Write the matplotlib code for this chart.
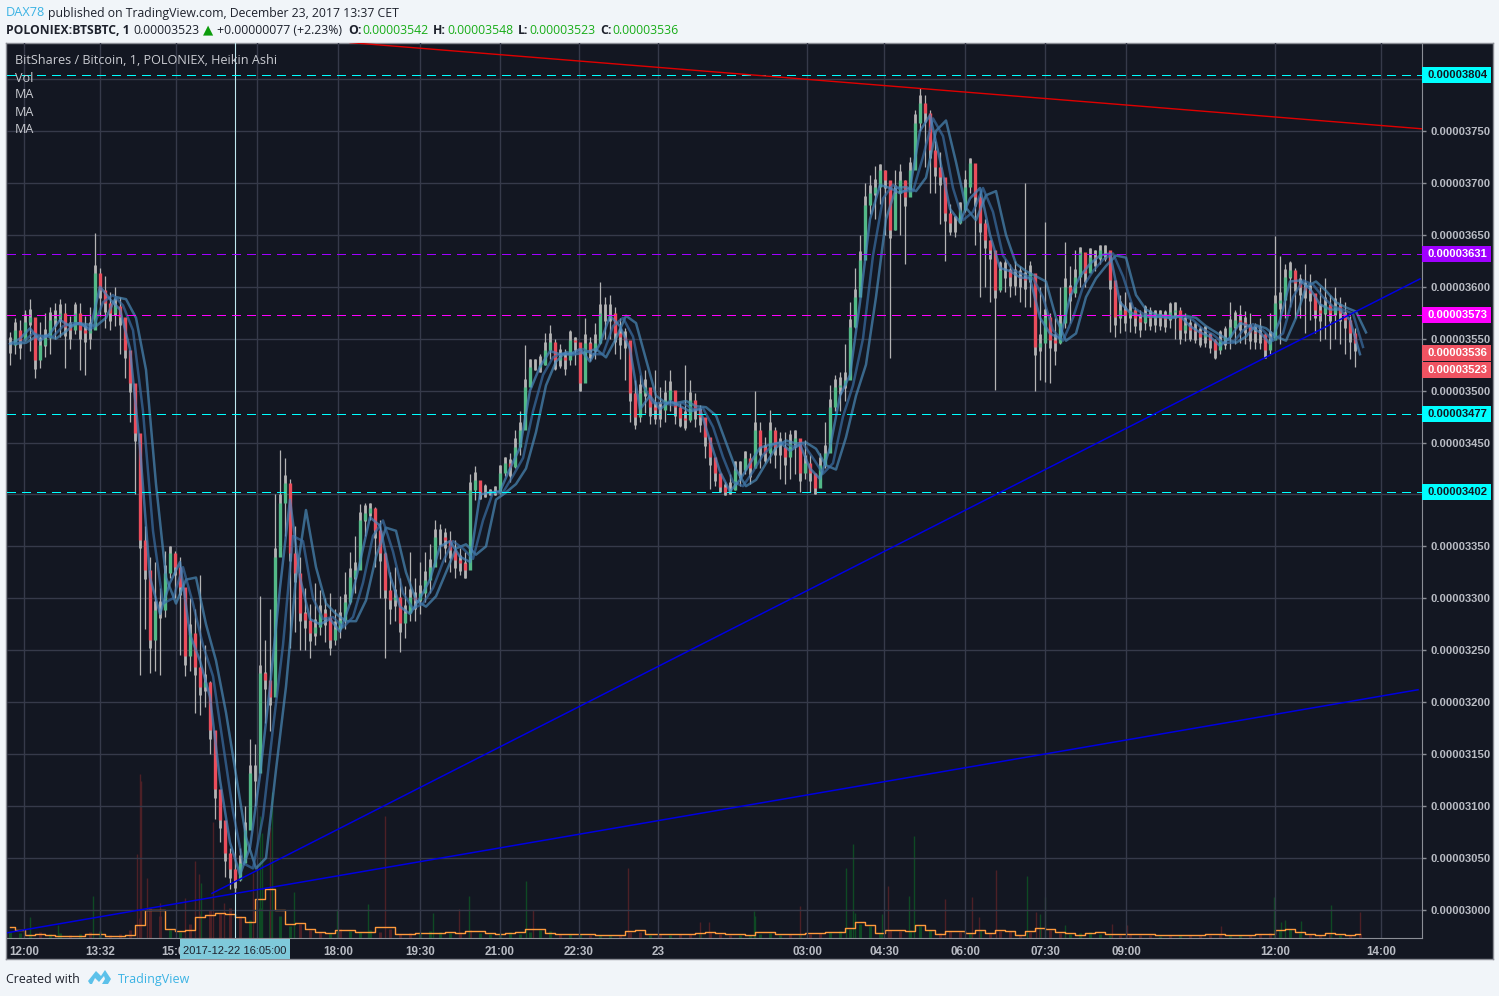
# TradingView snapshot of BTSBTC on Poloniex, 1 minute Heikin Ashi with MAs and volume
import numpy as np
import matplotlib
matplotlib.use("Agg")
import matplotlib.pyplot as plt
from matplotlib.patches import Rectangle, Polygon
from matplotlib.ticker import FuncFormatter

W, H = 1499, 996

# candles, prices in satoshi, one sample every 5 bars
bar_close = [
    3544,3558,3549,3566,3571,3529,3544,3551,3568,3570,
    3575,3561,3558,3575,3558,3555,3558,3613,3597,3584,
    3575,3581,3571,3539,3507,3459,3356,3327,3260,3289,
    3289,3324,3344,3330,3311,3244,3267,3234,3215,3219,
    3173,3116,3087,3055,3039,3029,3045,3077,3132,3132,
    3228,3221,3205,3340,3392,3411,3344,3324,3286,3279,
    3267,3272,3286,3282,3260,3270,3279,3296,3321,3327,
    3375,3382,3387,3366,3344,3308,3298,3301,3276,3286,
    3301,3298,3305,3318,3330,3359,3359,3356,3347,3337,
    3334,3327,3404,3414,3401,3401,3401,3401,3421,3430,
    3426,3446,3462,3503,3523,3523,3525,3539,3547,3529,
    3532,3529,3549,3547,3507,3546,3539,3546,3575,3575,
    3575,3555,3552,3549,3498,3475,3498,3503,3484,3481,
    3481,3491,3501,3484,3474,3472,3491,3481,3475,3455,
    3436,3421,3407,3402,3404,3424,3424,3435,3425,3462,
    3446,3440,3462,3446,3446,3436,3450,3454,3421,3430,
    3421,3406,3428,3440,3484,3503,3505,3510,3561,3590,
    3626,3679,3690,3696,3712,3703,3655,3690,3703,3686,
    3712,3758,3777,3767,3732,3715,3706,3671,3661,3661,
    3674,3696,3719,3686,3661,3645,3635,3597,3616,3616,
    3609,3609,3608,3606,3613,3542,3546,3571,3549,3546,
    3565,3600,3594,3609,3633,3613,3629,3628,3635,3635,
    3606,3571,3578,3573,3578,3570,3566,3573,3570,3571,
    3570,3569,3576,3578,3558,3563,3558,3557,3552,3554,
    3549,3539,3549,3552,3561,3568,3566,3563,3556,3555,
    3554,3539,3549,3584,3587,3609,3616,3604,3600,3597,
    3594,3578,3575,3582,3575,3581,3575,3568,3555,3546]
bar_high = [
    3556,3570,3568,3578,3588,3570,3566,3575,3580,3584,
    3588,3584,3572,3585,3584,3572,3580,3652,3618,3610,
    3595,3600,3590,3570,3530,3490,3420,3370,3340,3335,
    3310,3346,3350,3346,3340,3300,3300,3290,3322,3255,
    3220,3150,3115,3080,3060,3055,3060,3100,3165,3160,
    3302,3260,3290,3400,3443,3435,3415,3370,3340,3310,
    3295,3315,3308,3300,3305,3290,3302,3325,3345,3360,
    3391,3392,3392,3388,3375,3345,3325,3330,3320,3312,
    3345,3320,3335,3345,3352,3375,3372,3368,3365,3356,
    3348,3345,3420,3427,3412,3410,3405,3408,3428,3436,
    3440,3462,3480,3544,3530,3530,3535,3555,3563,3550,
    3545,3540,3558,3552,3530,3570,3552,3565,3605,3590,
    3592,3580,3570,3560,3545,3510,3515,3520,3500,3520,
    3503,3510,3520,3498,3488,3525,3510,3498,3486,3470,
    3450,3432,3415,3412,3420,3432,3432,3442,3440,3500,
    3470,3455,3481,3465,3460,3460,3462,3462,3445,3452,
    3438,3420,3440,3470,3505,3515,3518,3545,3585,3618,
    3650,3700,3708,3716,3718,3712,3690,3712,3718,3703,
    3725,3770,3791,3785,3770,3740,3730,3700,3680,3668,
    3682,3712,3724,3708,3690,3665,3645,3628,3625,3627,
    3622,3625,3620,3700,3625,3600,3600,3662,3575,3570,
    3600,3643,3620,3635,3638,3630,3637,3635,3640,3640,
    3630,3590,3592,3595,3585,3580,3578,3582,3580,3578,
    3578,3578,3585,3585,3580,3575,3570,3566,3562,3562,
    3555,3550,3558,3562,3585,3578,3582,3577,3575,3565,
    3570,3555,3575,3649,3630,3622,3625,3618,3612,3622,
    3612,3590,3600,3608,3592,3600,3590,3585,3572,3560]
bar_low = [
    3525,3535,3530,3548,3538,3512,3522,3532,3535,3550,
    3552,3522,3540,3554,3520,3515,3540,3570,3572,3560,
    3558,3562,3535,3512,3470,3400,3226,3270,3228,3230,
    3226,3282,3320,3300,3245,3225,3230,3190,3188,3195,
    3150,3088,3065,3032,3020,3016,3028,3050,3100,3100,
    3160,3180,3172,3290,3350,3360,3252,3268,3250,3250,
    3243,3255,3265,3258,3245,3255,3262,3270,3295,3305,
    3345,3360,3375,3330,3300,3243,3275,3278,3248,3262,
    3278,3278,3285,3296,3305,3335,3338,3335,3325,3320,
    3322,3320,3350,3395,3396,3398,3399,3399,3400,3418,
    3412,3425,3438,3470,3518,3520,3518,3525,3530,3520,
    3522,3515,3525,3525,3500,3525,3528,3530,3545,3550,
    3550,3535,3530,3510,3470,3463,3470,3478,3468,3468,
    3465,3470,3480,3468,3465,3462,3470,3465,3460,3435,
    3405,3408,3402,3399,3400,3404,3408,3420,3410,3425,
    3425,3430,3430,3425,3415,3410,3415,3420,3402,3415,
    3402,3400,3410,3425,3450,3480,3480,3490,3530,3560,
    3595,3640,3670,3665,3680,3650,3531,3655,3650,3622,
    3690,3725,3750,3715,3690,3690,3660,3625,3650,3648,
    3660,3672,3690,3640,3590,3600,3585,3501,3595,3595,
    3590,3592,3585,3580,3580,3500,3510,3508,3507,3525,
    3545,3560,3565,3590,3600,3600,3615,3615,3622,3625,
    3556,3552,3555,3557,3556,3555,3552,3558,3558,3556,
    3558,3556,3560,3550,3545,3548,3548,3546,3542,3542,
    3536,3530,3535,3540,3540,3545,3546,3545,3540,3540,
    3540,3531,3535,3555,3545,3570,3580,3570,3570,3555,
    3568,3555,3548,3550,3540,3550,3545,3535,3530,3523]

# moving averages, one sample every 10 bars
ma_fast = [
    3545,3550,3560,3548,3555,3568,3562,3565,3558,3600,
    3588,3578,3540,3445,3320,3285,3315,3335,3265,3240,
    3205,3125,3065,3034,3060,3130,3215,3310,3395,3320,
    3280,3275,3280,3268,3295,3335,3378,3370,3322,3292,
    3285,3300,3318,3350,3355,3340,3335,3400,3402,3403,
    3425,3445,3500,3523,3538,3535,3535,3540,3528,3545,
    3572,3562,3540,3482,3495,3482,3490,3485,3480,3482,
    3452,3422,3403,3414,3430,3445,3448,3450,3442,3448,
    3425,3415,3445,3495,3515,3585,3665,3698,3695,3690,
    3695,3750,3765,3722,3675,3662,3685,3695,3650,3618,
    3615,3609,3608,3570,3555,3550,3590,3610,3622,3630,
    3632,3585,3575,3572,3571,3571,3570,3572,3562,3556,
    3552,3543,3551,3565,3562,3556,3545,3568,3605,3606,
    3598,3583,3578,3578,3568,3535]
ma_mid = [
    3545,3547,3555,3552,3552,3562,3565,3563,3560,3585,
    3592,3582,3558,3480,3365,3295,3300,3330,3295,3255,
    3225,3160,3095,3045,3040,3090,3175,3255,3360,3355,
    3300,3280,3282,3272,3282,3315,3360,3375,3345,3305,
    3290,3295,3310,3335,3355,3348,3338,3375,3402,3402,
    3418,3435,3480,3515,3532,3536,3534,3540,3535,3535,
    3562,3570,3552,3505,3488,3488,3486,3488,3482,3483,
    3465,3436,3412,3408,3422,3438,3448,3450,3446,3449,
    3435,3420,3430,3475,3505,3550,3630,3685,3698,3692,
    3692,3725,3762,3745,3695,3664,3672,3695,3672,3630,
    3616,3612,3608,3590,3558,3548,3570,3600,3615,3626,
    3632,3610,3580,3574,3572,3571,3570,3572,3568,3559,
    3554,3546,3546,3558,3564,3558,3548,3555,3590,3606,
    3602,3590,3581,3578,3574,3542]
ma_slow = [
    3545,3546,3552,3553,3550,3557,3565,3564,3562,3570,
    3590,3588,3570,3520,3410,3320,3295,3318,3320,3275,
    3240,3190,3130,3070,3040,3050,3135,3215,3320,3385,
    3330,3295,3285,3278,3278,3298,3340,3368,3365,3325,
    3298,3292,3302,3325,3348,3352,3342,3350,3395,3402,
    3410,3425,3460,3505,3528,3537,3535,3537,3540,3532,
    3550,3572,3565,3530,3495,3488,3488,3490,3485,3484,
    3476,3450,3424,3408,3414,3430,3445,3452,3449,3450,
    3444,3428,3424,3455,3495,3525,3590,3665,3695,3696,
    3692,3705,3750,3760,3720,3676,3664,3688,3692,3650,
    3622,3615,3610,3605,3570,3548,3555,3590,3608,3620,
    3630,3628,3592,3578,3573,3572,3571,3572,3570,3562,
    3556,3550,3546,3552,3563,3560,3552,3548,3570,3600,
    3605,3596,3585,3580,3576,3556]

# volume, one low sample every 10 bars plus the taller single bars
vol_ma = [
    11,8,3,4,3,2,2,2,4,4,
    2,2,3,13,28,28,9,7,8,21,
    23,25,24,21,16,39,49,28,14,15,
    9,6,5,8,8,6,6,11,11,4,
    4,5,5,5,6,5,7,7,5,4,
    5,6,9,9,5,4,4,4,4,3,
    3,3,7,8,4,4,4,4,4,5,
    6,5,4,4,3,6,6,4,4,4,
    5,5,6,6,10,16,13,5,8,8,
    7,13,8,4,7,7,5,8,5,8,
    7,3,7,10,9,6,5,3,5,6,
    4,4,4,4,4,3,3,3,3,3,
    4,4,3,3,3,4,4,8,9,6,
    4,3,5,4,3,4]
vol_low = [
    6,5,4,6,4,5,3,4,6,7,
    3,4,8,20,30,22,8,6,14,24,
    28,25,30,22,18,30,28,22,12,14,
    8,6,5,9,7,6,8,6,9,4,
    5,6,7,6,5,6,8,5,4,5,
    6,4,6,8,7,4,4,4,3,3,
    3,3,6,6,3,4,3,4,4,5,
    6,4,3,3,3,4,5,3,4,4,
    4,5,6,7,9,14,12,5,8,7,
    8,12,8,5,7,6,5,8,5,7,
    7,3,6,9,8,5,4,5,6,4,
    3,3,4,3,3,2,3,3,3,3,
    3,4,3,3,3,4,5,8,9,5,
    4,3,4,3,3,4]
spike_bars = [23,51,86,130,133,134,140,153,178,188,192,194,206,217,246,253,255,263,265,287,
              330,361,378,426,452,462,519,526,621,693,702,747,748,793,839,846,848,875,881,902,
              907,938,965,972,989,1020,1029,1033,1038,1058,1105,1120,1214,1267,1274,1278,1294,1324,1353]
spike_vol = [21,13,42,84,164,157,60,35,40,77,64,55,116,35,65,122,105,111,146,46,
             29,34,122,25,29,42,57,28,70,16,16,27,22,32,70,94,25,24,52,42,
             102,39,41,21,68,62,26,24,41,13,14,13,12,41,16,18,17,33,26]
spike_up = [1,1,1,0,0,0,0,0,0,0,0,1,0,0,0,1,1,0,1,1,
            1,1,0,1,0,1,1,0,0,0,0,1,1,0,1,1,1,1,0,1,
            1,0,0,0,0,1,0,1,1,1,0,0,0,1,1,1,1,1,0]

# horizontal levels and their tags
level_values = [3804, 3631, 3573, 3477, 3402]
level_colors = ["#00ffff", "#a000ff", "#ff00ff", "#00ffff", "#00ffff"]
level_text = ["#131722", "white", "white", "#131722", "#131722"]
last_values = [3536, 3520]
last_labels = ["0.00003536", "0.00003523"]

# trend lines (bar, price)
red_line = ([343, 1415], [3835, 3752])
blue_line1 = ([205, 1413], [3016, 3607.5])
blue_line2 = ([0, 1411], [2978, 3212])

tick_bars = [17, 93, 169, 250, 331, 413, 493, 572, 651, 800, 877, 958, 1038, 1119, 1268, 1374]
tick_labels = ["12:00", "13:32", "15:00", "", "18:00", "19:30", "21:00", "22:30", "23",
               "03:00", "04:30", "06:00", "07:30", "09:00", "12:00", "14:00"]
hidden_prices = (3400, 3800)  # sit behind the level tags
cursor_bar = 228

BG = "#f1f5f9"
PANE = "#131722"
GRID = "#363a4a"
AXTXT = "#b9bcc4"
SANS = "Open Sans"


def px_rect(x0, y0, x1, y1):
    return [x0 / W, 1 - y1 / H, (x1 - x0) / W, (y1 - y0) / H]


def ftext(x, y, s, **kw):
    kw.setdefault("family", SANS)
    kw.setdefault("fontsize", 8.8)
    kw.setdefault("color", "#1e222d")
    kw.setdefault("va", "center")
    return fig.text(x / W, 1 - y / H, s, **kw)


def price_label(v, pos):
    if round(v) in hidden_prices:
        return ""
    return "%.8f" % (v * 1e-8)


fig = plt.figure(figsize=(W / 100, H / 100), dpi=100, facecolor=BG)

# dark frame with price scale and time scale
frame = fig.add_axes(px_rect(6, 43, 1493, 959), facecolor=PANE, zorder=0)
frame.set_xticks([])
frame.set_yticks([])
for s in frame.spines.values():
    s.set_color("#8b8e96")
    s.set_linewidth(1.0)

bars = np.arange(3, 1349, 5)
ma_bars = np.arange(3, 1354, 10)
close = np.array(bar_close)
opens = np.r_[close[0], close[:-1]]
high = np.array(bar_high)
low = np.array(bar_low)

# volume pane underneath the prices
axv = fig.add_axes(px_rect(7, 43, 1422, 938), facecolor=PANE, zorder=1)
axv.set_xlim(0, 1415)
axv.set_ylim(0, 895)
axv.axis("off")
ma_up = np.r_[True, np.diff(ma_fast) >= 0]
axv.vlines(ma_bars, 0, vol_low, colors=["#0e4a24" if u else "#4d2026" for u in ma_up], lw=2.2)
axv.vlines(spike_bars, 0, spike_vol, colors=["#0e4a24" if u else "#4d2026" for u in spike_up], lw=1.0)

# price pane
ax = fig.add_axes(px_rect(7, 43, 1422, 938), zorder=2)
ax.patch.set_visible(False)
ax.set_xlim(0, 1415)
ax.set_ylim(2973, 3834.6)
ax.yaxis.tick_right()
ax.set_yticks(np.arange(3000, 3801, 50))
ax.yaxis.set_major_formatter(FuncFormatter(price_label))
ax.set_xticks(tick_bars)
ax.set_xticklabels(tick_labels)
ax.grid(True, color=GRID, lw=1.0, zorder=0)
ax.set_axisbelow(True)
ax.tick_params(axis="y", length=3, width=1, color="#8b8e96", pad=3, labelcolor=AXTXT, labelsize=8.1)
ax.tick_params(axis="x", length=0, pad=6, labelcolor=AXTXT, labelsize=8.4)
for lab in ax.get_xticklabels() + ax.get_yticklabels():
    lab.set_family("Liberation Sans")
    lab.set_fontweight("bold")
for name, s in ax.spines.items():
    s.set_visible(name in ("right", "bottom"))
    s.set_color("#8b8e96")

# volume average goes on axv, above the bars
axv.plot(ma_bars, vol_ma, color="#ff9a3c", lw=1.0, drawstyle="steps-mid", zorder=3)

ax.axvline(cursor_bar, color="#bfe8ef", lw=0.8, zorder=2)

# candles: thin wicks for the spikes, a thicker grey band close to the price
ax.vlines(bars, low, high, colors="#b4b4b4", lw=0.9, zorder=3)
ax.vlines(bars, np.maximum(low, close - 8), np.minimum(high, close + 8), colors="#b4b4b4", lw=2.0, zorder=3)
body_colors = ["#53b987" if c >= o else "#eb4d5c" for o, c in zip(opens, close)]
ax.vlines(bars, opens, close, colors=body_colors, lw=2.4, zorder=4)

# the MAs run a few bars behind each other like on the chart
for series, shift, shade in ((ma_slow, 6, "#4a8ab8"), (ma_mid, 3, "#3a6fa5"), (ma_fast, 0, "#4a88c0")):
    ax.plot(ma_bars + shift, series, color=shade, lw=1.8, alpha=0.7, zorder=5, solid_joinstyle="round")

# levels and trend lines
for v, c in zip(level_values, level_colors):
    ln, = ax.plot([0, 1415], [v, v], color=c, lw=1.0, dashes=(6, 5), zorder=6, antialiased=False)
ax.plot(*red_line, color="#e00000", lw=1.0, zorder=6)
ax.plot(*blue_line1, color="#0000e0", lw=1.1, zorder=6)
ax.plot(*blue_line2, color="#0000e0", lw=1.1, zorder=6)

# price tags on the scale
tr = ax.get_yaxis_transform()
tag_w = 69 / 1415
for v, c, t in zip(level_values, level_colors, level_text):
    ax.add_patch(Rectangle((1, v - 7.7), tag_w, 15.4, transform=tr, color=c, lw=0, clip_on=False, zorder=7))
    ax.text(1 + 6 / 1415, v, "%.8f" % (v * 1e-8), transform=tr, color=t, fontsize=8.1, family="Liberation Sans",
            fontweight="bold", va="center", clip_on=False, zorder=8)
for v, lab in zip(last_values, last_labels):
    ax.add_patch(Rectangle((1, v - 7.7), tag_w, 15.4, transform=tr, color="#ef5362", lw=0, clip_on=False, zorder=7))
    ax.text(1 + 6 / 1415, v, lab, transform=tr, color="white", fontsize=8.1, family="Liberation Sans",
            fontweight="bold", va="center", clip_on=False, zorder=8)

# legend block in the pane
ftext(15, 61, "BitShares / Bitcoin, 1, POLONIEX, Heikin Ashi", color="#c9cbd1", fontsize=9.1, zorder=9)
for y, s in zip((78, 95, 112, 129), ("Vol", "MA", "MA", "MA")):
    ftext(15, y, s, color="#c9cbd1", fontsize=9.1, zorder=9)

# date tag on the time scale
fig.add_artist(Rectangle((180 / W, 1 - 959 / H), 110 / W, 20 / H, transform=fig.transFigure,
                         color="#7fc9da", lw=0, zorder=9))
ftext(235, 951, "2017-12-22 16:05:00", color="#1e222d", fontsize=8.0, family="Liberation Sans",
      ha="center", zorder=10)

# header
ftext(6, 13, "DAX78", color="#3bb3e4", fontsize=9.2)
ftext(48, 13, "published on TradingView.com, December 23, 2017 13:37 CET")
ftext(6, 30, "POLONIEX:BTSBTC, 1", fontweight="bold", fontsize=8.7)
ftext(133, 30, "0.00003523")
ftext(203, 30, "\u25b2", color="#0c9c0c", family="DejaVu Sans", fontsize=9.5)
ftext(217, 30, "+0.00000077 (+2.23%)")
for x, s in zip((348, 433, 518, 600), ("O:", "H:", "L:", "C:")):
    ftext(x, 30, s, fontweight="bold")
for x, s in zip((362, 447, 529, 612), ("0.00003542", "0.00003548", "0.00003523", "0.00003536")):
    ftext(x, 30, s, color="#18ad18")

# footer
ftext(6, 979, "Created with", fontsize=8.9)
ftext(118, 979, "TradingView", color="#3bb3e4", fontsize=9.0)
logo_px = [(88, 981), (96, 971), (101, 976), (105, 970), (111, 979), (108, 984), (102, 984),
           (105, 979), (104, 976), (99, 982), (95, 978), (92, 984), (90, 984)]
fig.add_artist(Polygon([(x / W, 1 - y / H) for x, y in logo_px], closed=True, transform=fig.transFigure,
                       color="#5cc1ea", lw=0))

fig.savefig("out.png", dpi=100, facecolor=BG)
